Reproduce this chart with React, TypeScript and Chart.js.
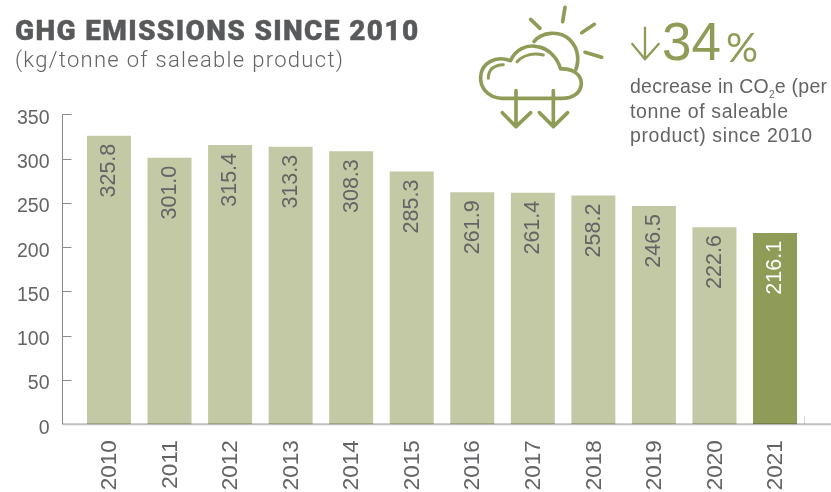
import React, { useEffect, useRef } from "react";
import { Chart, registerables } from "chart.js";

Chart.register(...registerables);

const years = ["2010","2011","2012","2013","2014","2015","2016","2017","2018","2019","2020","2021"];
const emissions = [325.8,301.0,315.4,313.3,308.3,285.3,261.9,261.4,258.2,246.5,222.6,216.1];
const barColors = ["#c4c9a5","#c4c9a5","#c4c9a5","#c4c9a5","#c4c9a5","#c4c9a5","#c4c9a5","#c4c9a5","#c4c9a5","#c4c9a5","#c4c9a5","#8f9c58"];
const labelColors = ["#636466","#636466","#636466","#636466","#636466","#636466","#636466","#636466","#636466","#636466","#636466","#ffffff"];
const yTicks = [0,50,100,150,200,250,300,350];

const FONT = "'Liberation Sans', Arial, sans-serif";
const GREY = "#636466";
const GREEN = "#8f9c58";

const axisPlugin = {
  id: "axisPlugin",
  afterDatasetsDraw(chart: any) {
    const { ctx, scales, width } = chart;
    const y = scales.y;
    const axisX = 62.5;
    ctx.save();
    ctx.strokeStyle = "#8a8a8a";
    ctx.lineWidth = 1;
    ctx.beginPath();
    ctx.moveTo(axisX, y.getPixelForValue(350));
    ctx.lineTo(axisX, y.getPixelForValue(0));
    yTicks.forEach((t) => {
      const py = Math.round(y.getPixelForValue(t)) + 0.5;
      if (t > 0) {
        ctx.moveTo(axisX, py);
        ctx.lineTo(axisX + 9, py);
      }
    });
    ctx.stroke();
    ctx.strokeStyle = "#d8d8d8";
    ctx.beginPath();
    ctx.moveTo(804.5, y.getPixelForValue(0));
    ctx.lineTo(804.5, y.getPixelForValue(0) - 8);
    ctx.stroke();
    ctx.strokeStyle = "rgba(0,0,0,0.25)";
    ctx.lineWidth = 2;
    ctx.beginPath();
    ctx.moveTo(axisX, y.getPixelForValue(0));
    ctx.lineTo(width, y.getPixelForValue(0));
    ctx.stroke();

    const meta = chart.getDatasetMeta(0);
    ctx.font = `21.5px ${FONT}`;
    ctx.textAlign = "right";
    ctx.textBaseline = "middle";
    meta.data.forEach((bar: any, i: number) => {
      ctx.save();
      ctx.translate(bar.x, bar.y + 8);
      ctx.rotate(-Math.PI / 2);
      ctx.fillStyle = labelColors[i];
      ctx.fillText(emissions[i].toFixed(1), 0, 0.5);
      ctx.restore();
    });
    ctx.restore();
  },
};

const abs = (left: number, top: number, extra: React.CSSProperties): React.CSSProperties => ({
  position: "absolute", left, top, whiteSpace: "nowrap", margin: 0, ...extra,
});

export default function App() {
  const ref = useRef<HTMLCanvasElement>(null);
  useEffect(() => {
    document.body.style.margin = "0";
    const chart = new Chart(ref.current!, {
      type: "bar",
      data: {
        labels: years,
        datasets: [{
          data: emissions,
          backgroundColor: barColors,
          barPercentage: 1,
          categoryPercentage: 44 / 60.55,
        }],
      },
      options: {
        responsive: false,
        animation: false,
        layout: { padding: { top: 114.3, right: 25.7, left: 0, bottom: 0 } },
        plugins: { legend: { display: false }, tooltip: { enabled: false } },
        scales: {
          x: {
            grid: { display: false },
            border: { display: false },
            afterFit: (s: any) => { s.height = 492 - 424.3; },
            ticks: {
              minRotation: 90, maxRotation: 90, padding: 8,
              labelOffset: 1,
              color: GREY,
              font: { family: FONT, size: 22.5 },
              autoSkip: false,
            },
          },
          y: {
            min: 0, max: 350,
            grid: { display: false },
            border: { display: false },
            afterFit: (s: any) => { s.width = 78.7; },
            afterBuildTicks: (s: any) => { s.ticks = yTicks.map((value) => ({ value })); },
            ticks: {
              padding: 21.2,
              labelOffset: 4,
              color: GREY,
              font: { family: FONT, size: 19.5 },
            },
          },
        },
      },
      plugins: [axisPlugin],
    });
    return () => chart.destroy();
  }, []);

  return (
    <div style={{ position: "relative", width: 831, height: 492, overflow: "hidden", background: "#fff" }}>
      <canvas ref={ref} width={831} height={492} style={{ display: "block", position: "absolute", left: 0, top: 0 }} />
      <div style={abs(15, 14, { font: `900 28px Roboto, sans-serif`, color: "#58595b", letterSpacing: 1.35, WebkitTextStroke: "0.4px #58595b" })}>GHG EMISSIONS SINCE 2010</div>
      <div style={abs(15, 47, { font: `300 22px Roboto, sans-serif`, color: GREY, letterSpacing: 1.3 })}>(kg/tonne of saleable product)</div>
      <svg width={371} height={160} viewBox="0 0 1113 480" style={{ position: "absolute", left: 460, top: 0 }} fill="none" stroke={GREEN} strokeWidth={11} strokeLinecap="round" strokeLinejoin="round">
        <path d="M 125 295 C 80 292 60 260 62 230 C 64 190 105 165 152 182 C 165 150 200 132 232 140 C 268 146 292 175 302 207 C 340 205 365 225 364 252 C 362 278 340 295 305 295 Z" />
        <path d="M 85 235 C 85 210 100 195 130 194" strokeWidth={9} />
        <path d="M 171 185 C 190 165 220 158 250 165" strokeWidth={9} />
        <path d="M 222 125 C 245 95 300 90 330 120 C 355 145 358 180 348 207" />
        <path d="M 168 272 V 380 M 127 338 L 168 380 L 212 338" />
        <path d="M 280 272 V 380 M 238 338 L 280 380 L 323 338" />
        <path d="M 212 58 L 240 85 M 315 22 L 308 65 M 403 73 L 365 98 M 375 157 L 425 172" />
        <path d="M 555 80 V 178 M 515 130 L 555 178 L 598 130" strokeWidth={7} strokeLinecap="butt" strokeLinejoin="miter" />
      </svg>
      <div style={abs(662, 12, { font: `400 53px/60px ${FONT}`, color: GREEN })}>34</div>
      <div style={abs(726, 23, { font: `400 40px/48px Lato, sans-serif`, color: GREEN })}>%</div>
      <div style={abs(630, 74, { font: `400 19.5px/24.5px ${FONT}`, color: GREY, letterSpacing: 0.6 })}>
        <span style={{ letterSpacing: 0.25 }}>decrease in CO<sub style={{ fontSize: 10, lineHeight: 0 }}>2</sub>e (per</span><br />tonne of saleable<br />product) since 2010
      </div>
    </div>
  );
}
